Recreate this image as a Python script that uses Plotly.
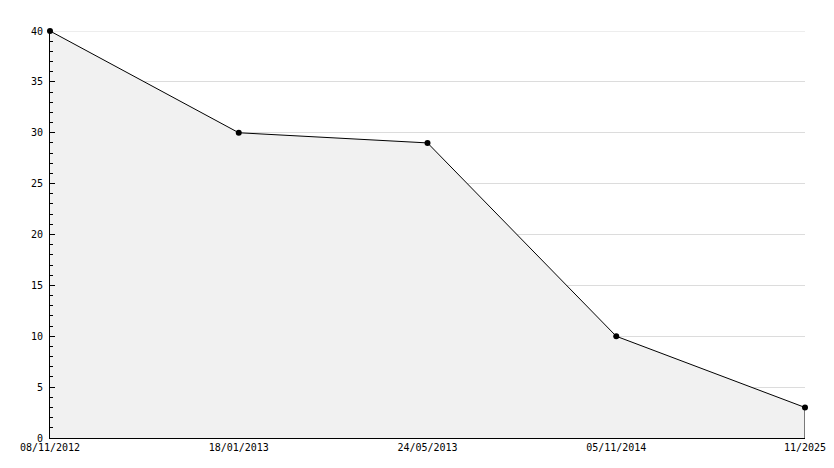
import plotly.graph_objects as go

dates = ["08/11/2012", "18/01/2013", "24/05/2013", "05/11/2014", "11/2025"]
values = [40, 30, 29, 10, 3]
y_ticks = [0, 5, 10, 15, 20, 25, 30, 35, 40]

positions = list(range(len(dates)))
GRID = "#dcdcdc"

fig = go.Figure()

fig.add_trace(
    go.Scatter(
        x=positions,
        y=values,
        mode="lines+markers",
        fill="tozeroy",
        fillcolor="#f1f1f1",
        line=dict(color="black", width=1),
        marker=dict(color="black", size=6, symbol="circle"),
        cliponaxis=False,
        hoverinfo="x+y",
    )
)

# closing edge of the area at the last point
fig.add_trace(
    go.Scatter(
        x=[positions[-1], positions[-1]],
        y=[0, values[-1]],
        mode="lines",
        line=dict(color="black", width=1),
        hoverinfo="skip",
    )
)

# plotly drops the grid line at the top edge, so draw it by hand
fig.add_shape(
    type="line",
    xref="paper",
    yref="y",
    x0=0,
    x1=1,
    y0=y_ticks[-1],
    y1=y_ticks[-1],
    line=dict(color=GRID, width=1),
    layer="below",
)

fig.update_layout(
    width=834,
    height=468,
    template="plotly_white",
    plot_bgcolor="white",
    paper_bgcolor="white",
    showlegend=False,
    margin=dict(l=50, r=29, t=31, b=30),
    font=dict(family="DejaVu Sans Mono", size=10, color="black"),
)

fig.update_xaxes(
    range=[positions[0], positions[-1]],
    tickvals=positions,
    ticktext=dates,
    showgrid=False,
    zeroline=False,
    showline=True,
    linecolor="black",
    linewidth=1,
    ticks="",
    automargin=False,
    tickfont=dict(family="DejaVu Sans Mono", size=10, color="black"),
)

fig.update_yaxes(
    range=[0, 40],
    tickvals=y_ticks,
    showgrid=True,
    gridcolor=GRID,
    gridwidth=1,
    zeroline=False,
    showline=True,
    linecolor="black",
    linewidth=1,
    ticks="inside",
    ticklen=5,
    tickcolor="black",
    ticklabelstandoff=4,
    automargin=False,
    minor=dict(dtick=1, ticks="inside", ticklen=3, tickcolor="black", showgrid=False),
    tickfont=dict(family="DejaVu Sans Mono", size=10, color="black"),
)

fig.write_html(
    "out.html",
    config={"displayModeBar": False},
    post_script="document.body.style.margin='0';",
)
